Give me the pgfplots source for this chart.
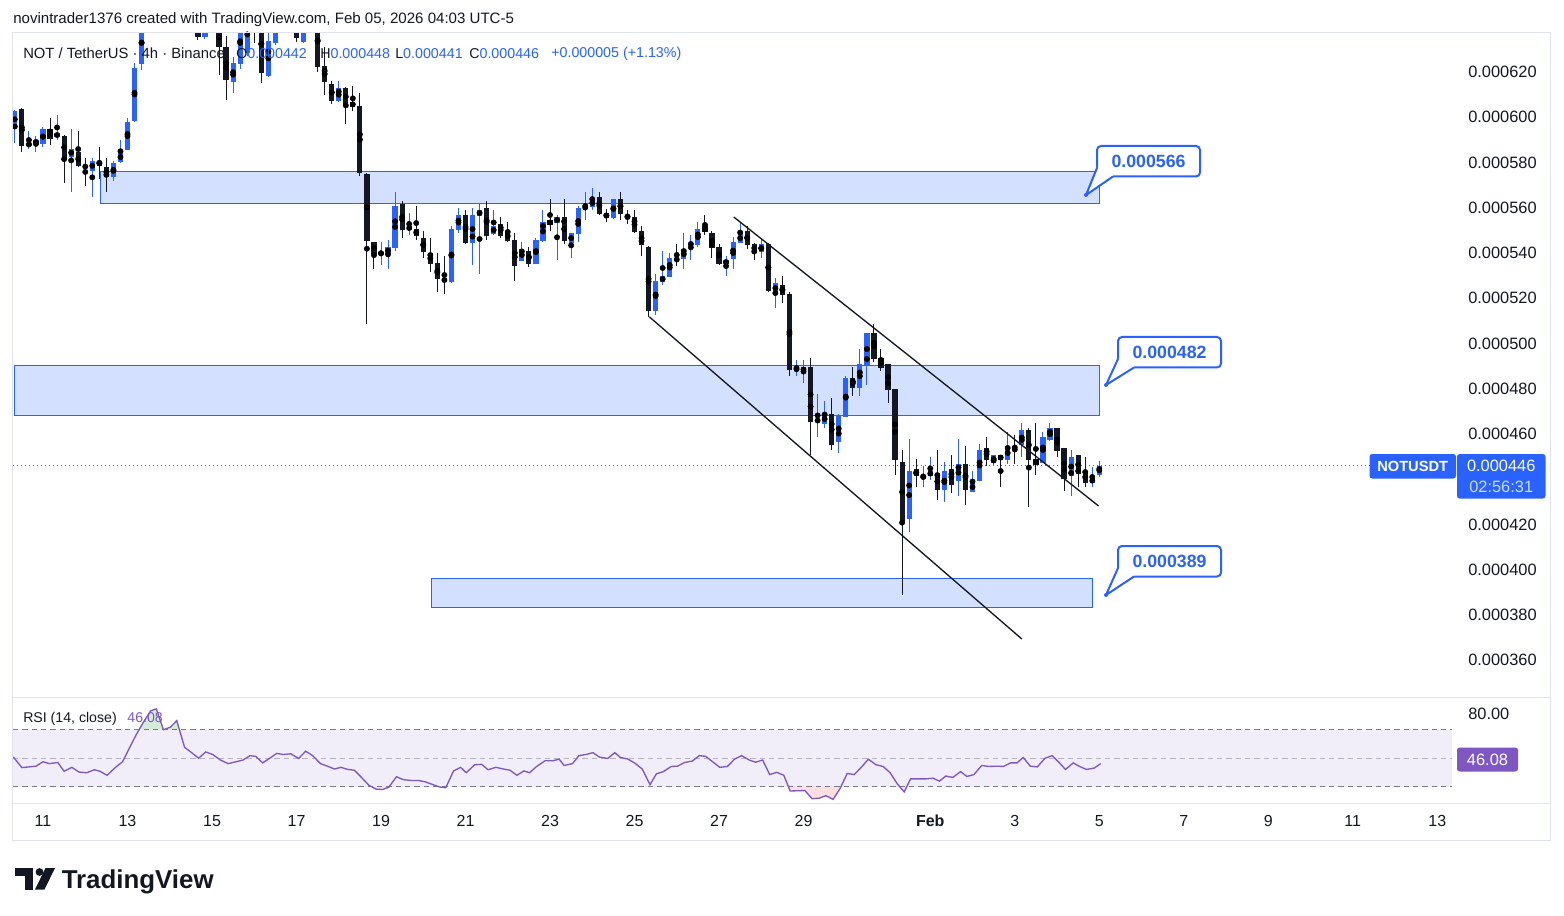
\documentclass[border=0pt]{standalone}
\usepackage{pgfplots}
\pgfplotsset{compat=1.18}
\usepackage{pgfplotstable}
\usepackage{fontspec}
\setmainfont{Liberation Sans}
\definecolor{tvblue}{HTML}{2962FF}
\definecolor{tvblack}{HTML}{131722}
\definecolor{zonefill}{RGB}{212,224,255}
\definecolor{rsiband}{RGB}{241,237,249}
\definecolor{rsiline}{HTML}{7E57C2}
\definecolor{bordc}{HTML}{E0E3EB}
\definecolor{dashc}{HTML}{787B86}
\definecolor{dashl}{HTML}{B2B5BE}
\definecolor{greenf}{RGB}{212,236,214}
\definecolor{pinkf}{RGB}{253,222,225}

\pgfplotstableread{
i o h l c
0 595.4 603 588.8 602.8
2 587.4 593.9 586 588.6
3 588.2 591.7 584.8 590
4 588.2 595.8 587 594.8
6 591.3 601 590 593
8 582.6 594.8 567.1 586
11 576.4 582 564.9 580.7
14 573.7 580.7 572 579.8
15 580.2 590 580 584.6
16 585.5 599.7 585.5 597.9
17 598.3 623.8 597.9 621.8
18 623.7 645 621 642
19 642 660 638 655
21 648 658 644 652
23 645 654 641 650
27 635.6 650 634.5 645
28 645 655 640 650
31 615.7 626.8 610.9 624.1
32 623.7 646 621.2 642
33 628.3 650 627 645
36 618.4 640 617.9 633.7
37 632.7 650 632 645
38 645 655 640 648
41 633.4 646 633 642
42 642 650 638 645
46 607.2 616 606.7 612.8
52 539.7 544.9 534.8 540.1
53 539.7 545.7 533.1 542.5
54 542.3 567 541 560.8
56 550.2 557.7 548 551.9
62 527.2 551.9 526.7 550.6
63 550.2 559.9 548.8 556.8
65 544.4 559.9 534.7 556.8
66 556.4 561.7 530.7 559
68 548.4 559 548 551.9
72 536.5 544.9 536.5 541.8
74 535.1 546.6 535.1 545.7
75 545.3 559 544.9 553.7
77 553.3 557 536.9 555.9
79 544.4 549 537.8 548.8
80 548.4 560.8 544.9 559.9
81 559.4 567 554.6 560.8
82 560.3 568.7 559 563.9
85 555.5 564 555 563.9
91 514.4 530.7 512.6 527.6
92 527.2 540.9 525.9 529.8
93 529.4 540 529.4 537.8
95 537.3 548.8 532.9 541.8
96 543.8 548 537 544.2
97 543.5 553.7 542.7 550.6
101 535.1 538.7 529.8 536.9
102 537.3 547.1 532.9 544.9
103 544.4 553.7 544.4 548.8
106 540.4 546.2 537.8 544
108 522.3 528.9 515.7 526.7
111 488.4 492.7 485.6 488.8
112 487.4 492.7 482.5 489.6
114 465.3 477.7 458.7 466.6
115 464.4 474.6 462.6 468.8
117 456.5 468.8 451.6 468.4
118 467.5 485.6 467.5 484.7
120 480.3 497.6 476.8 490.9
121 490.5 504.6 481.7 504.6
127 422.4 457.8 416.7 443.6
129 440.1 445.9 436.6 441.9
130 441.4 449.8 439.7 443.6
132 435.2 447.6 429.9 443.6
134 439.2 457.8 432.6 446.7
136 434.4 443.6 434.4 438.8
137 439.2 455.6 439.2 452.9
139 447.2 450.7 445.9 450.7
141 448.5 460.9 446.7 454.7
143 455.1 464.9 449.8 461.8
146 447.2 460.9 447.2 458.7
147 457.3 464.9 456.9 462.6
150 441.4 452.9 432.6 449.8
153 438.3 445.4 436.6 440.5
154 442 448 441 446
}\bull

\pgfplotstableread{
i o h l c
1 603.6 604 584.8 587.4
5 594.8 599.7 587.7 590.5
7 591.7 592 571 581.7
9 584.6 593.9 578 578.6
10 578.4 582 569.7 578
12 580.7 586.9 572.8 578.6
13 578 582 567.1 573.7
20 655 662 642 648
22 652 656 640 645
24 650 653 641 646
25 646 650 639 643
26 643 648 634.1 635.6
29 650 652 618.7 631
30 631.2 636 607.6 616.5
34 648 655 632.7 645
35 645 650 615 619.7
39 648 652 639 644
40 644 648 633.1 634.9
43 645 648 620.1 622.3
44 622.6 631.2 609.8 615.7
45 614.7 616 605.9 607.2
47 612.8 613.5 597 605.4
48 606.7 613.8 602.9 604.7
49 605 610.9 574 575.2
50 574.9 575.2 508.6 545.4
51 544.9 545 533.1 539.6
55 561.7 563 546.6 550.2
57 550.6 560.8 545.7 547.5
58 546.6 549.7 537.8 540.4
59 540 546.6 531.6 535.3
60 535.6 540 522.8 528.5
61 528.9 538.7 521.9 527.2
64 556.8 559 544 544.4
67 559.9 563 545.7 547.5
69 552.8 555.9 546.6 547.5
70 549.7 553.7 544.9 545.3
71 545.7 548.8 527.6 534.3
73 540.9 542.7 533.8 535.1
76 554.6 563.9 549.7 552.4
78 555.9 563.9 544 545.3
83 564.8 567 556.8 557.2
84 557.7 559.4 553.7 555.5
86 563.9 567 554.6 557.2
87 556.8 559 552.8 555.5
88 555.9 559 549 549.3
89 549.7 551.9 538.7 543.5
90 542.7 543 511.7 514.4
94 537.8 544 534.3 536.5
98 551.9 556.8 548 549.3
99 548.8 549.7 537.8 542.2
100 542.7 544 534.7 535.1
104 549.7 551.9 541.8 543.5
105 544 544.4 536.9 540.4
107 544 544.4 522.8 523.2
109 525.9 529.8 517.9 521.4
110 521.9 522.8 485.6 488.3
113 489.6 493.6 450.7 465.3
116 468.8 475.9 452.9 455.1
119 484.7 489.6 476.8 480.3
122 504.6 508.6 491.8 493.1
123 493.6 497.6 487.8 489.2
124 490.9 491 473.7 479.4
125 479.9 480 441.9 448.5
126 447.6 452.9 388.8 421.1
128 444.5 448.9 436.6 441.4
131 442.8 452.9 430.8 435.2
133 444.5 450.7 433.9 437.5
135 446.7 454.7 428.6 435.2
138 453.8 458.7 445.9 448.5
140 450.7 450.7 436.6 448.5
142 454.7 459.6 446.7 453.4
144 461.8 462.6 427.7 448.5
145 449 464.9 441.9 446.3
148 462.6 462.6 449.8 452.5
149 453.8 453.8 434.8 440.1
151 450.7 450.7 436.6 442.3
152 443.6 449.8 436.6 438.3
}\bear

\pgfplotstableread{
x r
-0.2 50.8
1.0 43.4
3.0 44.4
4.0 47.5
4.9 46.2
6.1 47.0
7.0 40.8
8.1 43.6
9.1 40.3
10.2 39.8
11.3 41.9
12.1 40.8
13.1 38.0
14.3 43.6
15.3 47.5
16.2 56.4
17.2 66.2
18.3 75.6
19.3 83.3
20.1 84.6
21.1 70.0
22.1 71.8
23.0 76.4
24.1 57.7
25.1 53.9
26.1 50.0
27.1 54.4
28.1 52.6
29.2 48.7
30.3 46.2
31.4 47.5
32.4 48.7
33.4 51.8
34.2 51.3
35.2 46.7
36.2 50.0
37.2 53.4
38.1 52.6
39.2 53.1
40.3 49.8
41.3 54.9
42.3 51.8
43.4 46.2
44.4 44.4
45.4 42.4
46.3 43.6
47.3 42.1
48.2 41.6
49.1 37.2
50.3 30.9
51.3 28.3
52.2 28.0
53.1 29.6
54.2 37.0
55.2 34.9
56.3 34.4
57.3 34.4
58.3 33.4
59.3 31.6
60.3 29.8
61.2 29.3
62.3 41.1
63.3 43.6
64.1 39.8
65.3 45.4
66.3 45.7
67.2 41.9
68.3 43.6
69.4 42.4
70.3 41.6
71.3 38.0
72.3 41.1
73.1 39.8
74.1 44.2
75.3 48.2
76.4 48.2
77.3 49.3
78.0 44.9
79.2 46.2
80.1 51.8
81.1 52.6
82.1 53.9
83.0 50.8
84.2 49.8
85.2 53.9
86.0 50.5
87.0 49.5
88.0 46.7
89.1 42.4
90.2 31.4
91.1 39.0
92.1 40.6
93.2 44.2
94.1 44.4
95.1 47.0
96.2 48.0
97.2 51.8
98.1 51.3
99.1 47.5
100.1 43.6
101.2 44.2
102.2 49.3
103.2 51.8
104.3 48.7
105.2 47.2
106.2 48.7
107.2 38.5
108.2 40.1
109.2 38.0
110.1 27.0
112.2 27.3
113.2 21.6
114.2 21.9
115.2 23.7
116.2 21.1
117.2 28.8
118.2 39.3
119.2 38.5
120.2 43.6
121.2 49.3
122.3 45.4
123.3 44.2
124.3 39.8
125.3 32.1
126.3 26.3
127.2 35.5
128.4 35.5
129.4 35.5
130.4 36.0
131.3 33.9
132.2 37.5
133.2 36.5
134.3 40.6
135.2 37.2
136.2 38.5
137.3 44.9
138.3 44.2
139.4 44.4
140.4 44.2
141.4 46.7
142.3 46.7
143.2 50.5
144.2 44.4
145.2 43.9
146.3 50.0
147.3 51.8
148.2 47.5
149.2 42.1
150.3 46.7
151.2 44.2
152.2 42.1
153.3 43.1
154.2 46.2
}\rsi

\newcommand{\callout}[5]{%
  \draw[tvblue, line width=1.5pt, fill=white, rounded corners=3pt] (#1,#2) rectangle ++(103,30.5);
  \fill[white] (#1,#2+22) -- (#3,#4) -- (#1+16,#2+30.5) -- (#1+16,#2+22) -- cycle;
  \draw[tvblue, line width=1.5pt, line join=round] (#1,#2+22) -- (#3,#4) -- (#1+16,#2+30.5);
  \fill[tvblue] (#3,#4) circle (2);
  \node[text=tvblue, font=\bfseries\fontsize{13.3pt}{14pt}\selectfont, inner sep=0pt] at (#1+51.5,#2+15.25) {#5};
}

\begin{document}
\begin{tikzpicture}
\path[use as bounding box] (0,0) rectangle (1173pt,-687pt);

% ---------- price pane ----------
\begin{axis}[
  at={(9.75pt,-24.75pt)}, anchor=north west,
  scale only axis, width=1079.25pt, height=498pt,
  xmin=-0.26, xmax=204.09, ymin=343.76, ymax=637.24,
  axis line style={draw=none},
  xtick=\empty,
  ytick={360,380,400,420,460,480,500,520,540,560,580,600,620},
  yticklabels={0.000360,0.000380,0.000400,0.000420,0.000460,0.000480,0.000500,0.000520,0.000540,0.000560,0.000580,0.000600,0.000620},
  yticklabel pos=right,
  major tick length=0pt,
  yticklabel style={font=\fontsize{12.3pt}{13pt}\selectfont, text=tvblack, anchor=west, inner sep=0pt, xshift=12pt},
]
% zones
\addplot[fill=zonefill, draw=tvblue, line width=0.75pt] coordinates {(12.1,561.7) (154.1,561.7) (154.1,576.2) (12.1,576.2)} -- cycle;
\addplot[fill=zonefill, draw=tvblue, line width=0.75pt] coordinates {(-0.1,468.4) (154.1,468.4) (154.1,490.5) (-0.1,490.5)} -- cycle;
\addplot[fill=zonefill, draw=tvblue, line width=0.75pt] coordinates {(59.1,383.1) (153.1,383.1) (153.1,396.3) (59.1,396.3)} -- cycle;
% current price line
\addplot[tvblue, line width=0.75pt, dash pattern=on 1pt off 2pt] coordinates {(-0.26,446) (204.09,446)};
% candles: wicks and bodies
\addplot[only marks, mark=none, forget plot, error bars/.cd, y dir=both, y explicit, error mark=none,
  error bar style={draw=tvblue, solid, line width=0.75pt}]
  table[x=i, y expr={(\thisrow{h}+\thisrow{l})/2}, y error expr={(\thisrow{h}-\thisrow{l})/2}] {\bull};
\addplot[only marks, mark=none, forget plot, error bars/.cd, y dir=both, y explicit, error mark=none,
  error bar style={draw=tvblue, solid, line width=3.9pt}]
  table[x=i, y expr={(\thisrow{o}+\thisrow{c})/2}, y error expr={(\thisrow{c}-\thisrow{o})/2}] {\bull};
\addplot[only marks, mark=none, forget plot, error bars/.cd, y dir=both, y explicit, error mark=none,
  error bar style={draw=tvblack, solid, line width=0.75pt}]
  table[x=i, y expr={(\thisrow{h}+\thisrow{l})/2}, y error expr={(\thisrow{h}-\thisrow{l})/2}] {\bear};
\addplot[only marks, mark=none, forget plot, error bars/.cd, y dir=both, y explicit, error mark=none,
  error bar style={draw=tvblack, solid, line width=3.9pt}]
  table[x=i, y expr={(\thisrow{o}+\thisrow{c})/2}, y error expr={(\thisrow{o}-\thisrow{c})/2}] {\bear};
% channel
\addplot[tvblack, line width=1pt] coordinates {(102.1,555.9) (153.9,428.2)};
\addplot[tvblack, line width=1pt] coordinates {(90.1,511.8) (143.0,369.4)};
\end{axis}

% ---------- RSI pane ----------
\begin{axis}[
  at={(9.75pt,-522.75pt)}, anchor=north west,
  scale only axis, width=1079.25pt, height=79.5pt,
  xmin=-0.26, xmax=204.09, ymin=18.56, ymax=92.95,
  axis line style={draw=none},
  major tick length=0pt,
  xtick={4,16,28,40,52,64,76,88,100,112,130,142,154,166,178,190,202},
  xticklabels={11,13,15,17,19,21,23,25,27,29,\textbf{Feb},3,5,7,9,11,13},
  xticklabel style={font=\fontsize{12pt}{13pt}\selectfont, text=tvblack, anchor=base, inner sep=0pt, yshift=-17.5pt},
  ytick={80}, yticklabels={80.00},
  yticklabel pos=right,
  yticklabel style={font=\fontsize{12.3pt}{13pt}\selectfont, text=tvblack, anchor=west, inner sep=0pt, xshift=12pt, yshift=1.5pt},
]
\addplot[fill=rsiband, draw=none] coordinates {(-0.26,30) (204.09,30) (204.09,70) (-0.26,70)} -- cycle;
\addplot[fill=greenf, draw=none] coordinates {(17.6,70) (18.3,75.6) (19.3,83.3) (20.1,84.6) (21.1,70.0) (22.1,71.8) (23.0,76.4) (23.4,70)} -- cycle;
\addplot[fill=pinkf, draw=none] coordinates {(109.9,30) (110.1,27.0) (112.2,27.3) (113.2,21.6) (114.2,21.9) (115.2,23.7) (116.2,21.1) (117.2,28.8) (117.3,30)} -- cycle;
\addplot[fill=pinkf, draw=none] coordinates {(125.9,30) (126.3,26.3) (126.7,30)} -- cycle;
\addplot[fill=pinkf, draw=none] coordinates {(50.6,30) (51.3,28.3) (52.2,28.0) (53.1,29.6) (53.2,30)} -- cycle;
\addplot[dashc, line width=0.75pt, dash pattern=on 4pt off 3pt] coordinates {(-0.26,70) (204.09,70)};
\addplot[dashc, line width=0.75pt, dash pattern=on 4pt off 3pt] coordinates {(-0.26,30) (204.09,30)};
\addplot[dashl, line width=0.75pt, dash pattern=on 4pt off 3pt] coordinates {(-0.26,50) (204.09,50)};
\addplot[rsiline, line width=1pt] table[x=x, y=r] {\rsi};
\end{axis}

% ---------- annotations in pixel coordinates ----------
\begin{scope}[x=0.75pt, y=-0.75pt]
\draw[bordc, line width=0.75pt] (12.5,33) rectangle (1550.5,840);
\draw[bordc, line width=0.75pt] (12.5,697) -- (1550.5,697);
\draw[bordc, line width=0.75pt] (12.5,803) -- (1550.5,803);

\node[anchor=west, inner sep=0pt, text=tvblack, font=\fontsize{11.3pt}{12pt}\selectfont] at (13,19.5) {novintrader1376 created with TradingView.com, Feb 05, 2026 04:03 UTC-5};
\node[anchor=west, inner sep=0pt, text=tvblack, font=\fontsize{11.1pt}{12pt}\selectfont] at (23,53.5) {NOT / TetherUS · 4h · Binance};
\node[anchor=west, inner sep=0pt, font=\fontsize{10.7pt}{12pt}\selectfont] at (236,53.5) {\textcolor{tvblack}{O}\textcolor{tvblue}{0.000442}};
\node[anchor=west, inner sep=0pt, font=\fontsize{10.7pt}{12pt}\selectfont] at (320,53.5) {\textcolor{tvblack}{H}\textcolor{tvblue}{0.000448}};
\node[anchor=west, inner sep=0pt, font=\fontsize{10.7pt}{12pt}\selectfont] at (395,53.5) {\textcolor{tvblack}{L}\textcolor{tvblue}{0.000441}};
\node[anchor=west, inner sep=0pt, font=\fontsize{10.7pt}{12pt}\selectfont] at (469,53.5) {\textcolor{tvblack}{C}\textcolor{tvblue}{0.000446}};
\node[anchor=west, inner sep=0pt, text=tvblue, font=\fontsize{10.7pt}{12pt}\selectfont] at (551,53.5) {+0.000005 (+1.13\%)};

\node[anchor=west, inner sep=0pt, font=\fontsize{10.6pt}{12pt}\selectfont] at (23,718.5) {\textcolor{tvblack}{RSI (14, close)}\hspace{8pt}\textcolor{rsiline}{46.08}};

\callout{1097}{146}{1086}{195}{0.000566}
\callout{1118}{337}{1106}{385}{0.000482}
\callout{1118}{546}{1106}{595}{0.000389}

\fill[tvblue, rounded corners=2pt] (1369.5,454) rectangle (1456,478.5);
\node[text=white, font=\bfseries\fontsize{11pt}{12pt}\selectfont, inner sep=0pt] at (1412.7,466.3) {NOTUSDT};
\fill[tvblue, rounded corners=2pt] (1457,454) rectangle (1545.5,498.5);
\node[text=white, font=\fontsize{12.3pt}{13pt}\selectfont, inner sep=0pt] at (1501.2,466.3) {0.000446};
\node[text={rgb,255:red,205;green,218;blue,255}, font=\fontsize{12.3pt}{13pt}\selectfont, inner sep=0pt] at (1501.2,487) {02:56:31};

\fill[rsiline, rounded corners=2pt] (1457,747.5) rectangle (1518,771.5);
\node[text=white, font=\fontsize{12.3pt}{13pt}\selectfont, inner sep=0pt] at (1487.5,759.5) {46.08};

% logo
\fill[tvblack] (15,868) rectangle (33,875.5);
\fill[tvblack] (24.5,868) rectangle (33,889.5);
\fill[tvblack] (39.5,872) circle (3.9);
\fill[tvblack] (45.5,868) -- (55,868) -- (44.5,889.5) -- (35,889.5) -- cycle;
\node[anchor=base west, inner sep=0pt, text=tvblack, font=\bfseries\fontsize{19.4pt}{20pt}\selectfont] at (61.5,888) {TradingView};
\end{scope}
\end{tikzpicture}
\end{document}
